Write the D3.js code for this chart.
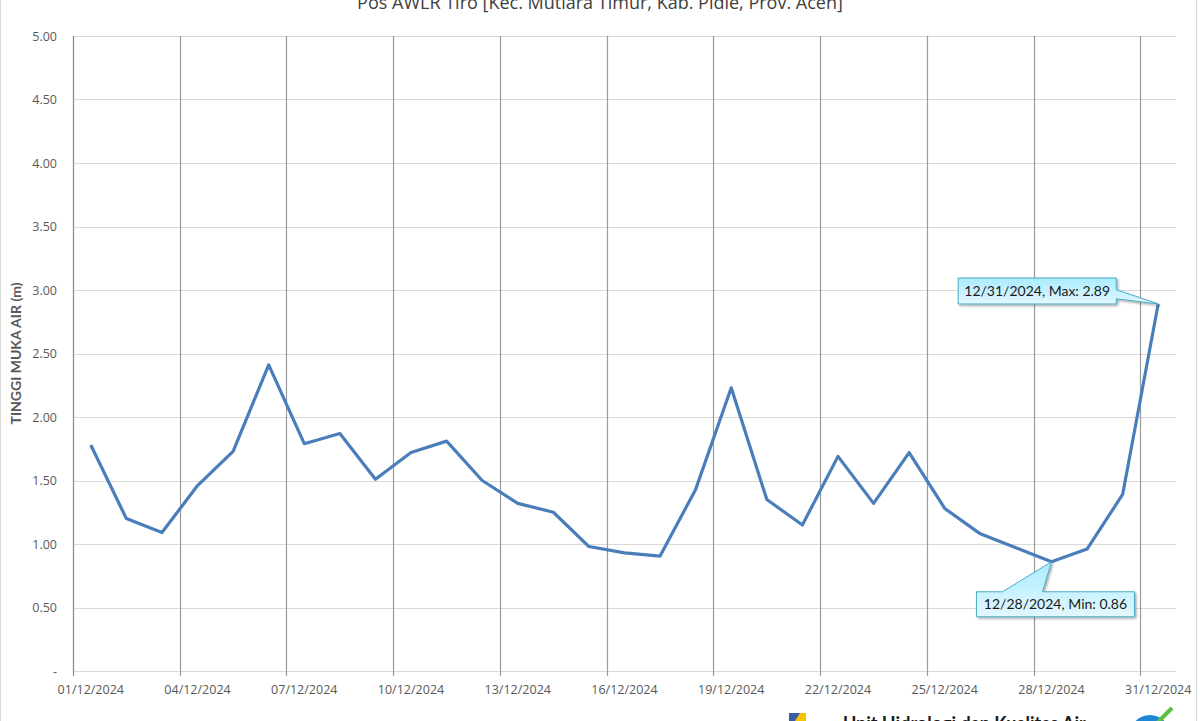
<!DOCTYPE html>
<html><head><meta charset="utf-8">
<script src="https://cdn.jsdelivr.net/npm/d3@7"></script>
<style>
html,body{margin:0;padding:0;background:#fff;overflow:hidden}
svg{display:block}
</style></head>
<body>
<svg id="c" width="1200" height="721"></svg>
<script>
const title = "Pos AWLR Tiro [Kec. Mutiara Timur, Kab. Pidie, Prov. Aceh]";
const yTitle = "TINGGI MUKA AIR (m)";
const days = d3.range(1, 32);
const values = [1.78,1.20,1.09,1.46,1.73,2.41,1.79,1.87,1.51,1.72,1.81,1.50,1.32,1.25,0.98,0.93,0.905,1.43,2.23,1.35,1.15,1.69,1.32,1.72,1.28,1.08,0.97,0.86,0.96,1.39,2.89];
const yTicks = [0,0.5,1,1.5,2,2.5,3,3.5,4,4.5,5];
const xTickDays = [1,4,7,10,13,16,19,22,25,28,31];
const maxLabel = "12/31/2024, Max: 2.89";
const minLabel = "12/28/2024, Min: 0.86";
const footerText = "Unit Hidrologi dan Kualitas Air";

const svg = d3.select("#c");
const L = 73, R = 1176, T = 36, B = 671;
const day = d => new Date(2024, 11, d);
const mid = d => new Date(2024, 11, d, 12);
const x = d3.scaleTime().domain([day(1), new Date(2025,0,1)]).range([L, R]);
const y = d3.scaleLinear().domain([0,5]).range([B, T]);

const defs = svg.append("defs");
const g1 = defs.append("linearGradient").attr("id","cg").attr("x1",0).attr("y1",0).attr("x2",0).attr("y2",1);
g1.append("stop").attr("offset","0%").attr("stop-color","#a9ecff");
g1.append("stop").attr("offset","100%").attr("stop-color","#e3f8ff");
const f = defs.append("filter").attr("id","sh").attr("x","-10%").attr("y","-20%").attr("width","130%").attr("height","160%");
f.append("feDropShadow").attr("dx",1.5).attr("dy",1.5).attr("stdDeviation",1.2).attr("flood-color","#000").attr("flood-opacity",0.35);

// chart border
svg.append("rect").attr("x",0.5).attr("y",-2).attr("width",1196).attr("height",730).attr("fill","none").attr("stroke","#d9d9d9");

// title (cut at top edge as in the reference)
svg.append("text").attr("x",600).attr("y",9).attr("text-anchor","middle")
  .attr("font-family","Open Sans, sans-serif").attr("font-size",18).attr("fill","#404040").text(title);

// horizontal gridlines
svg.append("g").selectAll("line").data(yTicks.slice(1)).join("line")
  .attr("x1",L).attr("x2",R).attr("y1",d=>Math.round(y(d))+0.5).attr("y2",d=>Math.round(y(d))+0.5)
  .attr("stroke","#d9d9d9").attr("stroke-width",1);

// x axis line
svg.append("line").attr("x1",L).attr("x2",R).attr("y1",B+0.5).attr("y2",B+0.5).attr("stroke","#d9d9d9").attr("stroke-width",1.2);

// vertical gridlines
svg.append("g").selectAll("line").data(xTickDays).join("line")
  .attr("x1",d=>Math.round(x(day(d)))+0.5).attr("x2",d=>Math.round(x(day(d)))+0.5)
  .attr("y1",T).attr("y2",B+5)
  .attr("stroke",(d,i)=>i===0?"#868686":"#9a9a9a").attr("stroke-width",1.2);

// y tick labels
svg.append("g").selectAll("text").data(yTicks).join("text")
  .attr("x",57).attr("y",d=>y(d)+4.5).attr("text-anchor","end")
  .attr("font-family","Open Sans, sans-serif").attr("font-size",12.5).attr("fill","#595959")
  .text(d=>d===0?"-":d3.format(".2f")(d));

// x tick labels
svg.append("g").selectAll("text").data(xTickDays).join("text")
  .attr("x",d=>x(mid(d))).attr("y",694).attr("text-anchor","middle")
  .attr("font-family","Open Sans, sans-serif").attr("font-size",12.5).attr("fill","#595959")
  .text(d=>d3.timeFormat("%d/%m/%Y")(day(d)));

// y title
svg.append("text").attr("transform",`translate(21,${(T+B)/2}) rotate(-90)`).attr("text-anchor","middle")
  .attr("font-family","Lato, sans-serif").attr("font-weight","bold").attr("font-size",14).attr("fill","#595959").text(yTitle);

// line
const line = d3.line().x((v,i)=>x(mid(days[i]))).y(v=>y(v));
svg.append("path").datum(values).attr("d",line).attr("fill","none")
  .attr("stroke","#4a7ebb").attr("stroke-width",3.2).attr("stroke-linejoin","round");

// callouts
const imax = values.indexOf(d3.max(values)), imin = values.indexOf(d3.min(values));
const pMax = [x(mid(days[imax])), y(values[imax])];
const pMin = [x(mid(days[imin])), y(values[imin])];

// max callout: box left of point
{
  const bw=158,bh=26,bx=pMax[0]-200,by=pMax[1]-26;
  const gg = svg.append("g").attr("filter","url(#sh)");
  gg.append("path").attr("d", `M${bx},${by} H${bx+bw} V${by+bh*0.45} L${pMax[0]},${pMax[1]} L${bx+bw},${by+bh*0.8} V${by+bh} H${bx} Z`)
    .attr("fill","url(#cg)").attr("stroke","#4bacc6").attr("stroke-width",1);
  svg.append("text").attr("x",bx+bw/2).attr("y",by+bh/2+5).attr("text-anchor","middle")
    .attr("font-family","Lato, sans-serif").attr("font-size",14).attr("fill","#1a1a1a").text(maxLabel);
}
// min callout: box below-left of point
{
  const bw=158,bh=25,bx=pMin[0]-75,by=pMin[1]+30;
  const gg = svg.append("g").attr("filter","url(#sh)");
  gg.append("path").attr("d", `M${bx},${by} H${bx+26} L${pMin[0]},${pMin[1]} L${bx+66},${by} H${bx+bw} V${by+bh} H${bx} Z`)
    .attr("fill","url(#cg)").attr("stroke","#4bacc6").attr("stroke-width",1);
  svg.append("text").attr("x",bx+bw/2).attr("y",by+bh/2+5).attr("text-anchor","middle")
    .attr("font-family","Lato, sans-serif").attr("font-size",14).attr("fill","#1a1a1a").text(minLabel);
}

// footer logo (partially visible, cut at bottom as in the reference)
svg.append("rect").attr("x",789).attr("y",713).attr("width",17).attr("height",10).attr("fill","#f5c400");
svg.append("path").attr("d","M789,713 H800 L795,721 H789 Z").attr("fill","#3b5ba5");
svg.append("text").attr("x",843).attr("y",730).attr("font-family","Lato, sans-serif").attr("font-weight","bold")
  .attr("font-size",18).attr("fill","#1a1a1a").text(footerText);
svg.append("circle").attr("cx",1150).attr("cy",735).attr("r",20).attr("fill","#1e88d6");
svg.append("path").attr("d","M1158,722 L1172,708").attr("stroke","#5cc040").attr("stroke-width",4);
</script>
</body></html>
